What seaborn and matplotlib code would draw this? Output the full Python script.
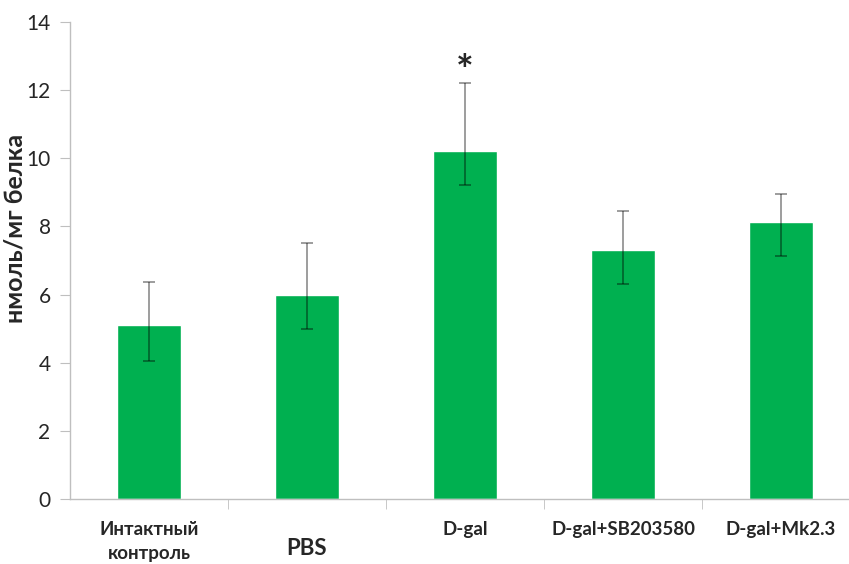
import pandas as pd
import matplotlib.pyplot as plt
import seaborn as sns

# Данные
groups = ['Интактный\nконтроль', 'PBS', 'D-gal', 'D-gal+SB203580', 'D-gal+Mk2.3']
values = [5.1, 6.0, 10.22, 7.32, 8.12]
err_low = [1.05, 1.0, 1.0, 1.02, 1.0]
err_high = [1.28, 1.5, 2.0, 1.12, 0.82]

data = pd.DataFrame({'group': groups, 'value': values})

sns.set_style('white')
plt.rcParams['font.family'] = ['Lato', 'DejaVu Sans']

fig = plt.figure(figsize=(8.49, 5.64), dpi=100)
ax = fig.add_axes([70 / 849, 1 - 499 / 564, 779 / 849, 477 / 564])

sns.barplot(data=data, x='group', y='value', color='#00B050', saturation=1,
            width=0.4, errorbar=None, ax=ax)
ax.errorbar(range(len(groups)), values, yerr=[err_low, err_high], fmt='none',
            ecolor='black', alpha=0.45, elinewidth=1.2, capsize=4.5, capthick=1.2)

# Звёздочка над D-gal
ax.text(2, values[2] + err_high[2] + 0.29, '*', ha='center', va='center',
        fontsize=30, fontweight='bold')

ax.set_ylim(0, 14)
ax.set_xlim(-0.5, 4.43)
ax.set_yticks(range(0, 15, 2))
ax.set_xlabel('')
ax.set_ylabel('нмоль/мг белка', fontsize=18, fontweight='bold')
ax.yaxis.set_label_coords(-0.056, 0.568)

for side in ['top', 'right']:
    ax.spines[side].set_visible(False)
for side in ['left', 'bottom']:
    ax.spines[side].set_color('#BFBFBF')
    ax.spines[side].set_linewidth(1)

ax.tick_params(axis='y', left=True, length=7, color='#BFBFBF', labelsize=15, pad=7,
               labelcolor='#262626')
ax.set_xticks([0.5, 1.5, 2.5, 3.5], minor=True)
ax.tick_params(axis='x', which='minor', bottom=True, length=7, color='#BFBFBF')
ax.tick_params(axis='x', which='major', bottom=False, length=0, pad=16, labelsize=13.5)
for lab in ax.get_xticklabels():
    lab.set_fontweight('bold')
    lab.set_linespacing(1.45)
    if lab.get_text() == 'PBS':
        lab.set_fontsize(16)
        lab.set_y(-0.035)

fig.savefig('out.png', dpi=100)
